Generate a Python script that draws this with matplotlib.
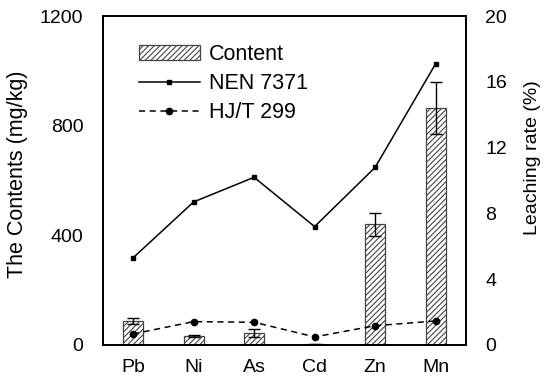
import matplotlib
matplotlib.use("Agg")
import matplotlib.pyplot as plt
import numpy as np

plt.rcParams['font.family'] = ['Liberation Sans', 'DejaVu Sans']
plt.rcParams['hatch.linewidth'] = 0.8
plt.rcParams['hatch.color'] = '#555555'

elements = ["Pb", "Ni", "As", "Cd", "Zn", "Mn"]
content = [88, 33, 45, 3, 440, 866]
content_err = [12, 5, 15, 2, 42, 95]
nen7371 = [5.3, 8.7, 10.2, 7.2, 10.8, 17.1]
hjt299 = [0.67, 1.42, 1.38, 0.49, 1.17, 1.46]

fig = plt.figure(figsize=(5.5, 3.85), dpi=100)
ax = fig.add_axes([0.187, 0.104, 0.66, 0.854])
x = np.arange(len(elements))
bars = ax.bar(x, content, width=0.33, color='white', edgecolor='#444444',
              linewidth=0.9, hatch='//////', label='Content', zorder=2)
ax.errorbar(x, content, yerr=content_err, fmt='none', ecolor='black',
            elinewidth=1, capsize=4, capthick=1, zorder=3)
ax.set_xlim(-0.5, 5.5)
ax.set_ylim(0, 1200)
ax.set_yticks([0, 400, 800, 1200])
ax.set_xticks(x)
ax.set_xticklabels(elements)
ax.set_ylabel("The Contents (mg/kg)", fontsize=15.5)
ax.yaxis.set_label_coords(-0.205, 0.52)
ax.tick_params(axis='y', length=0, labelsize=14, pad=14)
ax.tick_params(axis='x', length=0, labelsize=14, pad=10)

ax2 = ax.twinx()
l1, = ax2.plot(x, nen7371, '-', color='black', marker='s', markersize=3.5,
               linewidth=1.1, label='NEN 7371')
l2, = ax2.plot(x, hjt299, '--', color='black', marker='o', markersize=4.5,
               linewidth=1.1, label='HJ/T 299', dashes=(4, 3))
ax2.set_ylim(0, 20)
ax2.set_yticks([0, 4, 8, 12, 16, 20])
ax2.set_ylabel("Leaching rate (%)", fontsize=14)
ax2.yaxis.set_label_coords(1.16, 0.57)
ax2.tick_params(length=0, labelsize=14, pad=14)

for a in (ax, ax2):
    for s in a.spines.values():
        s.set_linewidth(1.3)

ax.legend([bars, l1, l2], ['Content', 'NEN 7371', 'HJ/T 299'],
          loc='upper left', bbox_to_anchor=(0.099, 0.915), frameon=False,
          borderaxespad=0, borderpad=0,
          fontsize=15.5, handlelength=2.85, handletextpad=0.4, labelspacing=0.38)

fig.savefig("out.png", dpi=100)
